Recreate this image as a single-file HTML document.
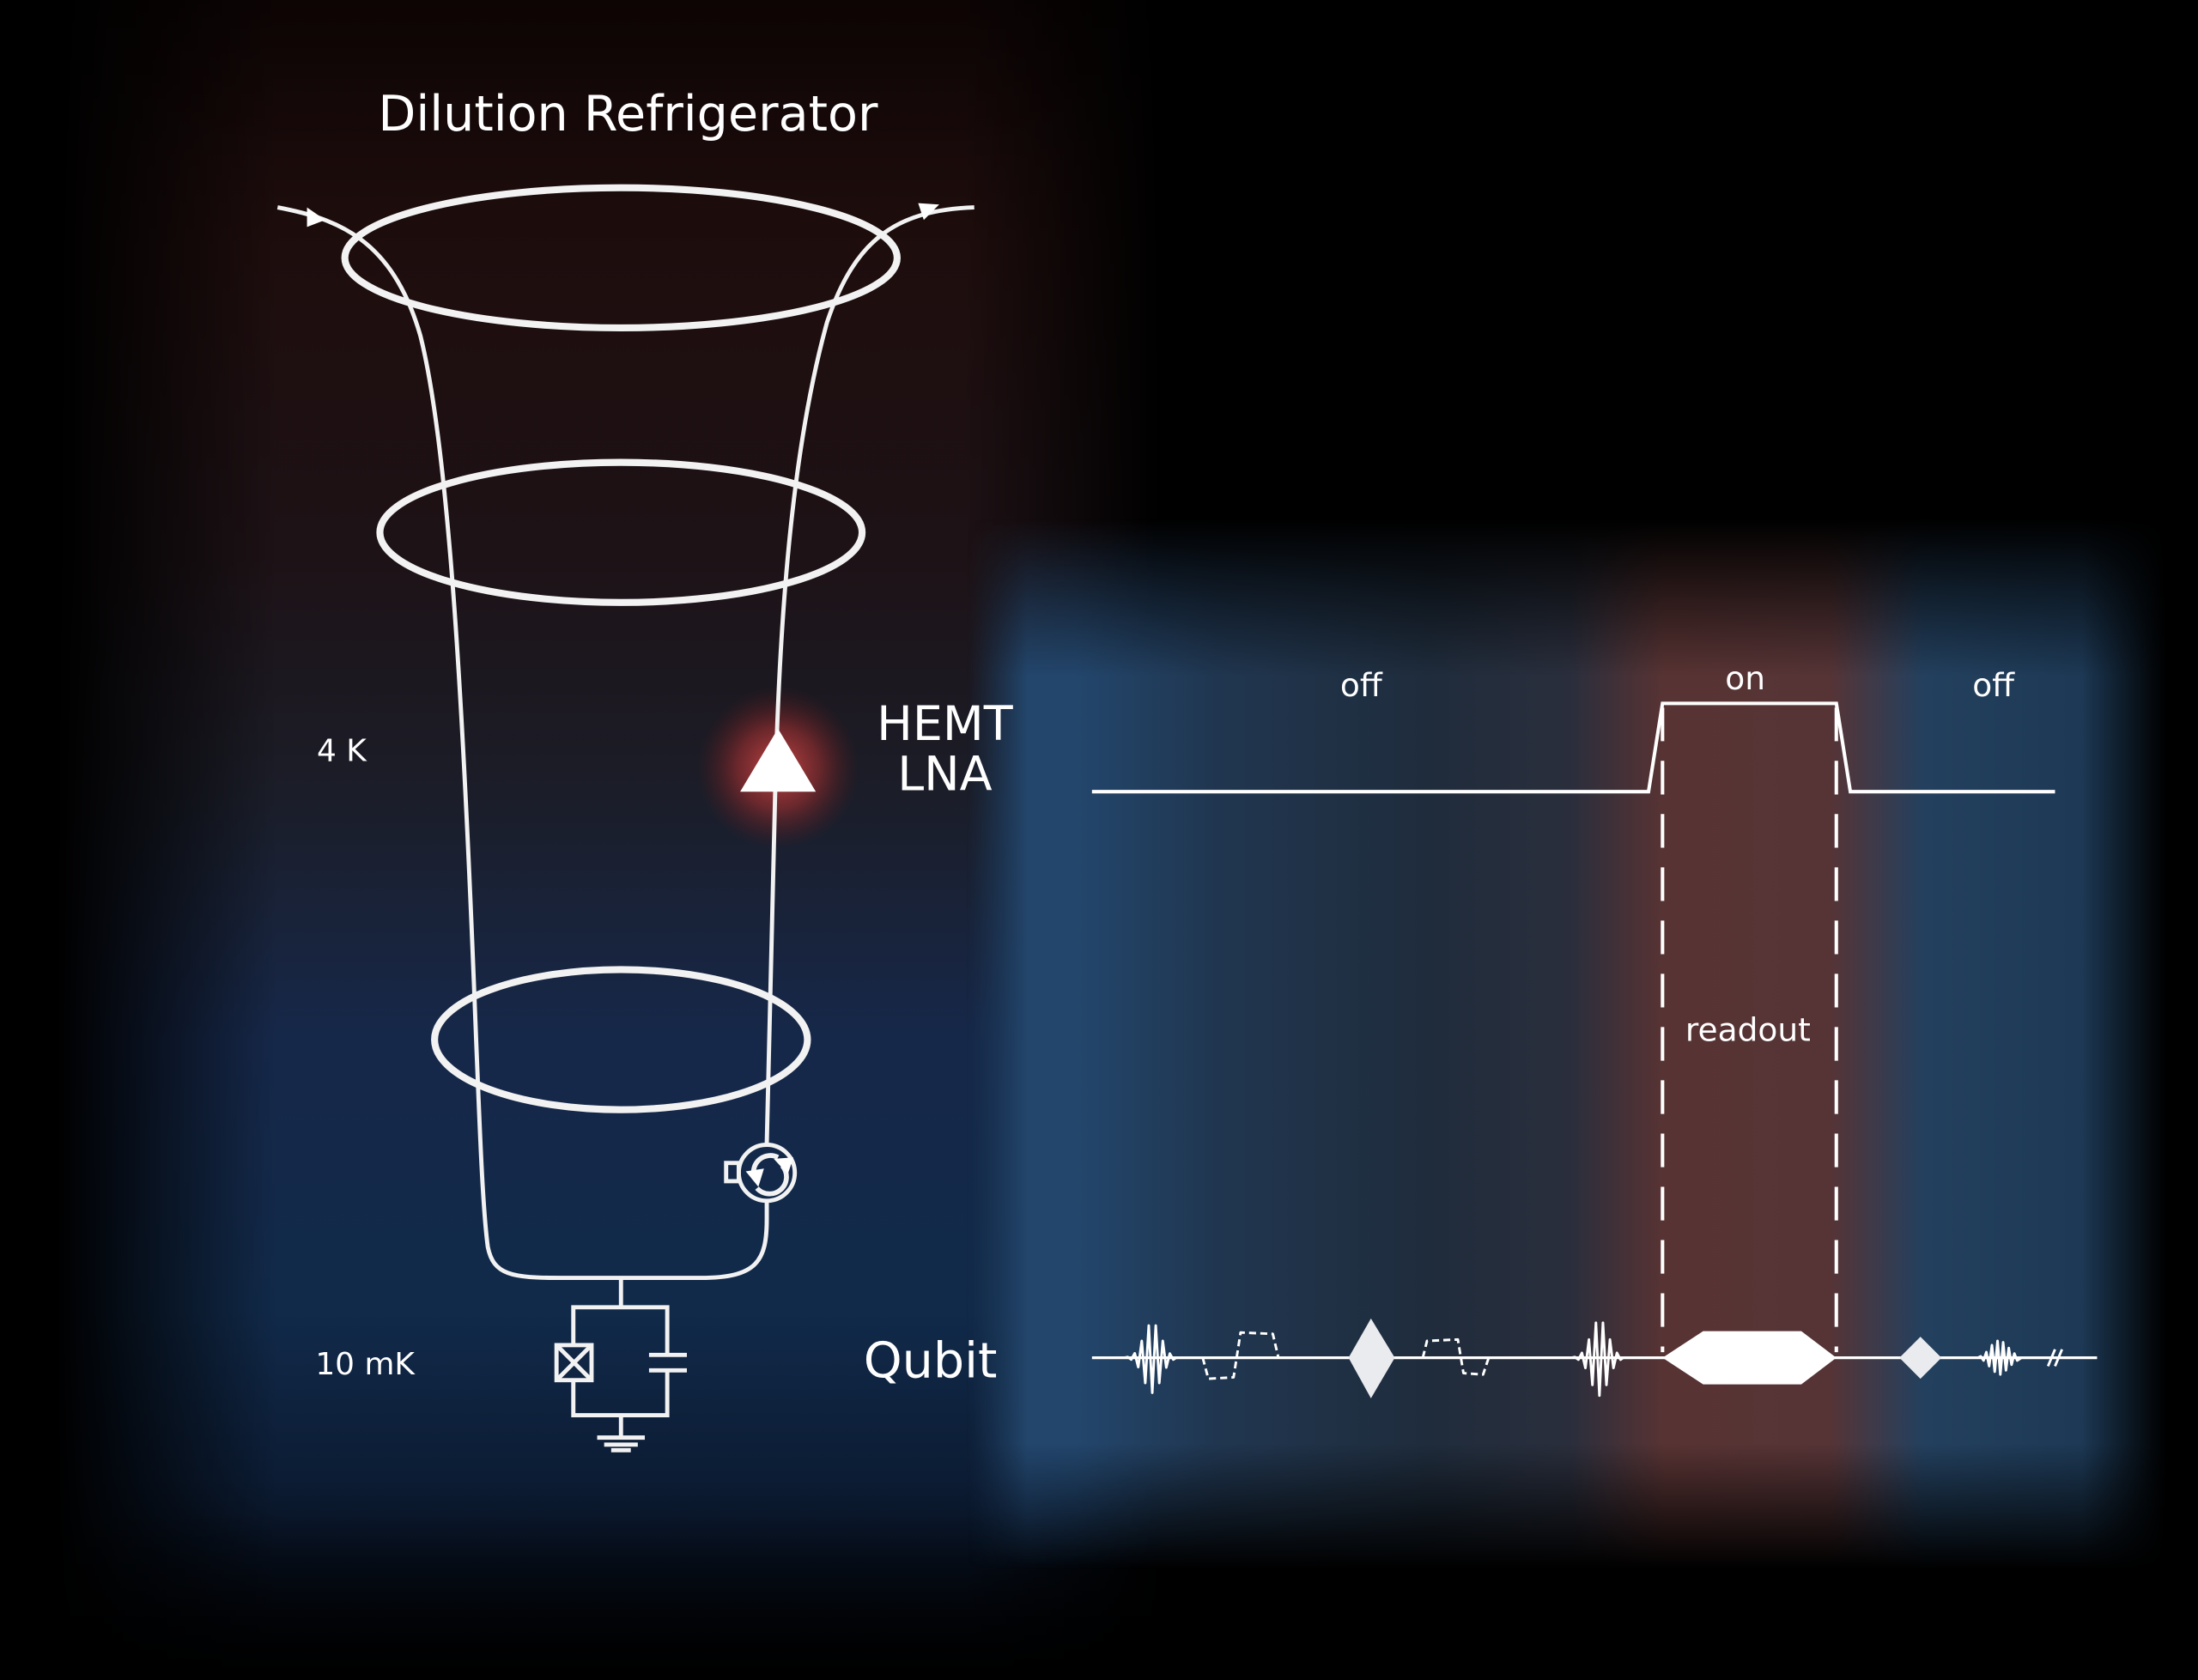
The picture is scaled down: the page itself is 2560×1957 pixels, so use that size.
<!DOCTYPE html>
<html><head><meta charset="utf-8"><style>
html,body{margin:0;padding:0;background:#000;}
svg{display:block;}
text{font-family:"DejaVu Sans","Liberation Sans",sans-serif;fill:#fff;}
</style></head><body>
<svg width="2560" height="1957" viewBox="0 0 1568 1199" preserveAspectRatio="none" xmlns="http://www.w3.org/2000/svg">
<defs>
<linearGradient id="lc" x1="0" y1="0" x2="0" y2="1">
<stop offset="0" stop-color="#120606"/>
<stop offset="0.15" stop-color="#1e0d0d"/>
<stop offset="0.33" stop-color="#1d1216"/>
<stop offset="0.47" stop-color="#1b1d28"/>
<stop offset="0.62" stop-color="#16284a"/>
<stop offset="0.78" stop-color="#112a4a"/>
<stop offset="0.88" stop-color="#0c1c34"/>
<stop offset="0.96" stop-color="#040810"/>
<stop offset="1" stop-color="#000"/>
</linearGradient>
<linearGradient id="rp" x1="700" y1="0" x2="1540" y2="0" gradientUnits="userSpaceOnUse">
<stop offset="0" stop-color="#23466c"/>
<stop offset="0.08" stop-color="#23466c"/>
<stop offset="0.2" stop-color="#203650"/>
<stop offset="0.38" stop-color="#1f2c3c"/>
<stop offset="0.5" stop-color="#2a2e3c"/>
<stop offset="0.58" stop-color="#583333"/>
<stop offset="0.72" stop-color="#563436"/>
<stop offset="0.8" stop-color="#23405e"/>
<stop offset="1" stop-color="#1a3550"/>
</linearGradient>
<linearGradient id="mhL" x1="40" y1="0" x2="830" y2="0" gradientUnits="userSpaceOnUse">
<stop offset="0" stop-color="#fff" stop-opacity="0"/>
<stop offset="0.2" stop-color="#fff" stop-opacity="1"/>
<stop offset="0.82" stop-color="#fff" stop-opacity="1"/>
<stop offset="1" stop-color="#fff" stop-opacity="0"/>
</linearGradient>
<linearGradient id="mvL" x1="0" y1="0" x2="0" y2="1199" gradientUnits="userSpaceOnUse">
<stop offset="0" stop-color="#fff" stop-opacity="0.7"/>
<stop offset="0.1" stop-color="#fff" stop-opacity="1"/>
<stop offset="0.9" stop-color="#fff" stop-opacity="1"/>
<stop offset="1" stop-color="#fff" stop-opacity="0.2"/>
</linearGradient>
<linearGradient id="mhR" x1="690" y1="0" x2="1545" y2="0" gradientUnits="userSpaceOnUse">
<stop offset="0" stop-color="#fff" stop-opacity="0"/>
<stop offset="0.05" stop-color="#fff" stop-opacity="1"/>
<stop offset="0.93" stop-color="#fff" stop-opacity="1"/>
<stop offset="1" stop-color="#fff" stop-opacity="0"/>
</linearGradient>
<linearGradient id="mvR" x1="0" y1="370" x2="0" y2="1120" gradientUnits="userSpaceOnUse">
<stop offset="0" stop-color="#fff" stop-opacity="0"/>
<stop offset="0.15" stop-color="#fff" stop-opacity="1"/>
<stop offset="0.88" stop-color="#fff" stop-opacity="1"/>
<stop offset="1" stop-color="#fff" stop-opacity="0"/>
</linearGradient>
<mask id="mL1" maskUnits="userSpaceOnUse" x="0" y="0" width="1568" height="1199"><rect x="0" y="0" width="1568" height="1199" fill="url(#mhL)"/></mask>
<mask id="mL2" maskUnits="userSpaceOnUse" x="0" y="0" width="1568" height="1199"><rect x="0" y="0" width="1568" height="1199" fill="url(#mvL)"/></mask>
<mask id="mR1" maskUnits="userSpaceOnUse" x="0" y="0" width="1568" height="1199"><rect x="0" y="0" width="1568" height="1199" fill="url(#mhR)"/></mask>
<mask id="mR2" maskUnits="userSpaceOnUse" x="0" y="0" width="1568" height="1199"><rect x="0" y="0" width="1568" height="1199" fill="url(#mvR)"/></mask>
<radialGradient id="glow"><stop offset="0" stop-color="#d04848" stop-opacity="0.95"/><stop offset="0.5" stop-color="#a03030" stop-opacity="0.6"/><stop offset="1" stop-color="#601818" stop-opacity="0"/></radialGradient>
</defs>
<rect width="1568" height="1199" fill="#000"/>
<g mask="url(#mL2)"><rect x="40" y="0" width="790" height="1199" fill="url(#lc)" mask="url(#mL1)"/></g>
<g mask="url(#mR2)"><rect x="690" y="370" width="855" height="750" fill="url(#rp)" mask="url(#mR1)"/></g>
<circle cx="555" cy="548" r="58" fill="url(#glow)"/>

<g fill="none" stroke="#f2f2f2" stroke-width="5">
<ellipse cx="443" cy="184" rx="197" ry="50"/>
<ellipse cx="443" cy="380" rx="172" ry="50"/>
<ellipse cx="443" cy="742" rx="133" ry="50"/>
</g>
<g fill="none" stroke="#f2f2f2" stroke-width="3">
<path d="M198,148 C240,156 280,170 300,240 C320,320 330,500 338,700 C342,800 344,860 348,890 C352,910 365,912 400,912 L500,912 C540,912 547,900 547,870 L547,858"/>
<path d="M547,816 L553,565 C556,440 565,320 590,230 C610,170 640,150 695,148"/>
<path d="M443,912 L443,933 M409,959 L409,933 L476,933 L476,967 M463,967 L490,967 M463,978 L490,978 M476,978 L476,1010 L409,1010 L409,986 M443,1010 L443,1026 M426,1026 L460,1026 M431,1031 L455,1031 M436,1035 L450,1035"/>
<rect x="397" y="960" width="25" height="25"/>
<path d="M397,960 L422,985 M422,960 L397,985"/>
<circle cx="547" cy="837" r="20"/>
<rect x="518" y="830" width="9" height="13"/>
<path d="M555,826 A12,12 0 0 0 538,840" stroke-width="3.5"/>
<path d="M540,848 A12,12 0 0 0 558,832" stroke-width="3.5"/>
</g>
<path d="M532,836 L541,847 L545,834 Z" fill="#fff"/>
<path d="M562,838 L552,827 L566,826 Z" fill="#fff"/>
<path d="M219,148 L232,157 L219,162 Z" fill="#fff"/>
<path d="M655,145 L670,146 L659,157 Z" fill="#fff"/>
<path d="M528,565 L582,565 L555,520 Z" fill="#fff"/>

<g fill="none" stroke="#fff" stroke-width="2.5">
<path d="M779,565 L1176,565 L1186,502 L1310,502 L1320,565 L1466,565"/>
<path d="M1186,505 L1186,965 M1310,505 L1310,965" stroke-dasharray="24,14"/>
<path d="M779,969 L1496,969" stroke-width="2"/>
</g>
<g fill="none" stroke="#fff" stroke-width="1.8" stroke-linejoin="round">
<polyline points="802,969 804.5,968.5 807,970.3 809.5,965.8 812,975.7 814.5,957 817,987 819.5,946 822,994 824.5,946 827,987 829.5,957 832,976 834.5,966 837,970.3 839,969"/>
<polyline points="1121,969 1123.5,968.5 1126,970.4 1128.5,965.5 1131,976.3 1133.5,956 1136,988.4 1138.5,944 1141,996 1143.5,944 1146,988.4 1148.5,956 1151,976.3 1153.5,965.5 1156,970.4 1158,969"/>
<polyline points="1411,969 1413,968 1415,971 1417,965 1419,975 1421,960 1423,979 1425,957 1427,981 1429,958 1431,978 1433,962 1435,974 1437,966 1439,971 1442,969"/>
<polyline points="858,969 862,984 880,983 885,951 908,952 912,969" stroke-dasharray="5,3"/>
<polyline points="1015,969 1018,957 1040,956 1044,980 1058,981 1062,969" stroke-dasharray="5,3"/>
<path d="M1461,975 L1466,963 M1466,975 L1471,963"/>
</g>
<path d="M962,969 L978,941 L995,969 L978,998 Z" fill="#e9ebee"/>
<path d="M1355,969 L1370,954 L1385,969 L1370,984 Z" fill="#e9ebee"/>
<path d="M1186,969 L1215,950 L1285,950 L1310,969 L1285,988 L1215,988 Z" fill="#fff"/>

<text x="448" y="93" font-size="35" text-anchor="middle">Dilution Refrigerator</text>
<text x="226" y="543" font-size="22">4 K</text>
<text x="225" y="981" font-size="22">10 mK</text>
<text x="674" y="528" font-size="34" text-anchor="middle">HEMT</text>
<text x="674" y="564" font-size="34" text-anchor="middle">LNA</text>
<text x="616" y="983" font-size="35">Qubit</text>
<text x="971" y="497" font-size="23" text-anchor="middle">off</text>
<text x="1245" y="492" font-size="23" text-anchor="middle">on</text>
<text x="1422" y="497" font-size="23" text-anchor="middle">off</text>
<text x="1247" y="743" font-size="23" text-anchor="middle">readout</text>
</svg>
</body></html>
